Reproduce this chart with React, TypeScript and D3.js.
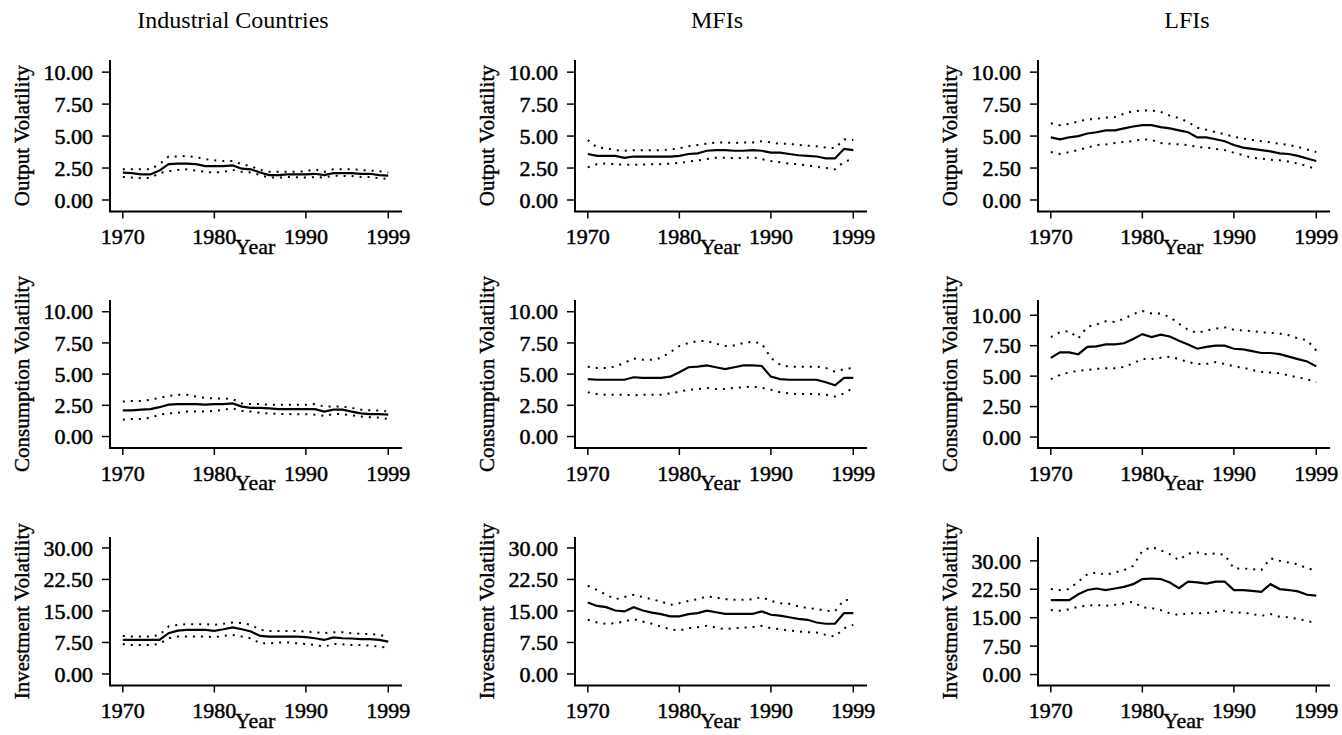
import * as d3 from 'd3';
import React from 'react';

// years on the x axis
const years = d3.range(1970, 2000);

// Industrial Countries
const icOutMid = [2.14, 2.1, 2.0, 2.0, 2.3, 2.8, 2.85, 2.85, 2.8, 2.65, 2.65, 2.65, 2.7, 2.45, 2.4, 2.15, 1.95, 1.95, 2.0, 2.0, 2.0, 2.05, 1.95, 2.1, 2.1, 2.1, 2.05, 2.05, 1.95, 1.9];
const icOutHi = [2.4, 2.4, 2.4, 2.4, 2.8, 3.4, 3.4, 3.45, 3.35, 3.2, 3.1, 3.05, 3.05, 2.8, 2.65, 2.35, 2.2, 2.2, 2.2, 2.2, 2.25, 2.4, 2.2, 2.4, 2.4, 2.4, 2.35, 2.3, 2.25, 2.15];
const icOutLo = [1.8, 1.75, 1.7, 1.72, 2.1, 2.25, 2.35, 2.4, 2.3, 2.2, 2.15, 2.2, 2.35, 2.2, 2.15, 1.95, 1.75, 1.75, 1.8, 1.78, 1.75, 1.8, 1.75, 1.9, 1.88, 1.88, 1.8, 1.8, 1.7, 1.65];
const icConMid = [2.1, 2.1, 2.15, 2.2, 2.35, 2.55, 2.6, 2.6, 2.6, 2.55, 2.6, 2.6, 2.65, 2.4, 2.3, 2.3, 2.25, 2.2, 2.2, 2.2, 2.2, 2.2, 2.0, 2.15, 2.15, 2.0, 1.85, 1.8, 1.8, 1.75];
const icConHi = [2.8, 2.85, 2.85, 2.95, 3.1, 3.25, 3.35, 3.35, 3.2, 3.1, 3.05, 3.05, 3.0, 2.65, 2.6, 2.6, 2.55, 2.55, 2.55, 2.55, 2.55, 2.6, 2.4, 2.4, 2.4, 2.3, 2.15, 2.1, 2.08, 2.0];
const icConLo = [1.35, 1.4, 1.4, 1.5, 1.75, 1.85, 1.9, 2.0, 2.0, 2.0, 2.05, 2.15, 2.25, 2.05, 2.0, 1.9, 1.85, 1.8, 1.8, 1.78, 1.78, 1.75, 1.65, 1.8, 1.8, 1.7, 1.6, 1.55, 1.52, 1.4];
const icInvMid = [8.1, 8.1, 8.1, 8.1, 8.1, 9.7, 10.3, 10.5, 10.5, 10.5, 10.25, 10.65, 11.1, 10.65, 10.1, 9.05, 8.9, 8.9, 8.9, 8.9, 8.75, 8.5, 8.1, 8.7, 8.5, 8.45, 8.3, 8.3, 8.1, 7.7];
const icInvHi = [9.05, 8.9, 8.9, 8.9, 9.3, 11.3, 11.7, 11.85, 11.85, 11.85, 11.7, 11.95, 12.25, 12.1, 11.7, 10.5, 10.25, 10.25, 10.25, 10.25, 10.1, 9.95, 9.7, 9.95, 9.95, 9.7, 9.55, 9.5, 9.3, 8.9];
const icInvLo = [7.15, 6.9, 6.9, 6.9, 7.15, 8.5, 8.9, 8.9, 8.9, 8.9, 8.75, 9.05, 9.3, 8.9, 8.5, 7.3, 7.3, 7.5, 7.5, 7.3, 7.15, 6.9, 6.5, 7.15, 7.05, 6.9, 6.9, 6.75, 6.5, 6.3];

// MFIs
const mfOutMid = [3.6, 3.45, 3.45, 3.45, 3.3, 3.4, 3.4, 3.4, 3.4, 3.4, 3.45, 3.6, 3.65, 3.85, 3.9, 3.9, 3.85, 3.85, 3.9, 3.85, 3.7, 3.7, 3.6, 3.5, 3.45, 3.4, 3.25, 3.25, 4.0, 3.9];
const mfOutHi = [4.7, 4.1, 4.05, 3.9, 3.85, 3.9, 3.9, 3.9, 3.9, 3.95, 4.05, 4.2, 4.3, 4.4, 4.5, 4.5, 4.45, 4.5, 4.5, 4.6, 4.5, 4.4, 4.4, 4.3, 4.25, 4.2, 4.1, 4.05, 4.75, 4.7];
const mfOutLo = [2.55, 2.8, 2.85, 2.8, 2.75, 2.75, 2.78, 2.8, 2.8, 2.85, 2.9, 3.0, 3.1, 3.2, 3.3, 3.3, 3.28, 3.28, 3.35, 3.2, 3.05, 2.95, 2.85, 2.8, 2.7, 2.6, 2.5, 2.4, 3.0, 3.2];
const mfConMid = [4.6, 4.55, 4.55, 4.55, 4.55, 4.75, 4.7, 4.7, 4.7, 4.8, 5.15, 5.55, 5.6, 5.7, 5.55, 5.4, 5.55, 5.7, 5.7, 5.65, 4.8, 4.6, 4.55, 4.55, 4.55, 4.55, 4.35, 4.1, 4.7, 4.7];
const mfConHi = [5.6, 5.5, 5.5, 5.6, 5.9, 6.25, 6.15, 6.15, 6.3, 6.75, 7.25, 7.5, 7.65, 7.65, 7.45, 7.25, 7.3, 7.5, 7.6, 7.45, 6.3, 5.75, 5.6, 5.6, 5.6, 5.6, 5.5, 5.2, 5.4, 5.5];
const mfConLo = [3.55, 3.4, 3.35, 3.35, 3.35, 3.3, 3.35, 3.35, 3.35, 3.45, 3.6, 3.75, 3.8, 3.9, 3.8, 3.8, 3.9, 3.95, 4.0, 3.9, 3.75, 3.55, 3.45, 3.4, 3.4, 3.4, 3.35, 3.2, 3.45, 3.9];
const mfInvMid = [17.0, 16.2, 15.9, 15.1, 14.9, 15.9, 15.1, 14.6, 14.25, 13.7, 13.7, 14.25, 14.5, 15.05, 14.7, 14.3, 14.3, 14.3, 14.3, 14.9, 14.1, 13.9, 13.5, 13.1, 12.9, 12.25, 11.95, 11.95, 14.5, 14.5];
const mfInvHi = [21.0, 20.0, 18.85, 17.8, 18.3, 18.85, 18.3, 17.8, 17.25, 16.45, 16.85, 17.4, 17.8, 18.45, 18.2, 17.8, 17.65, 17.65, 17.8, 18.3, 17.4, 16.85, 16.7, 16.1, 15.7, 15.45, 15.05, 14.9, 17.65, 17.5];
const mfInvLo = [12.9, 12.25, 11.95, 12.1, 12.5, 13.05, 12.5, 11.95, 11.3, 10.65, 10.35, 10.9, 11.15, 11.45, 11.05, 10.65, 10.9, 11.05, 11.15, 11.45, 10.9, 10.65, 10.35, 10.1, 9.95, 9.85, 9.3, 8.9, 10.9, 11.7];

// LFIs
const lfOutMid = [4.9, 4.75, 4.9, 5.0, 5.2, 5.3, 5.45, 5.45, 5.6, 5.75, 5.85, 5.85, 5.7, 5.6, 5.45, 5.3, 4.9, 4.9, 4.75, 4.6, 4.3, 4.1, 4.0, 3.9, 3.8, 3.65, 3.6, 3.45, 3.25, 3.05];
const lfOutHi = [6.0, 5.85, 5.95, 6.15, 6.3, 6.35, 6.45, 6.5, 6.75, 6.95, 7.0, 7.0, 6.9, 6.6, 6.4, 6.1, 5.65, 5.5, 5.3, 5.15, 4.95, 4.8, 4.7, 4.6, 4.5, 4.4, 4.3, 4.15, 3.95, 3.75];
const lfOutLo = [3.75, 3.6, 3.75, 3.9, 4.1, 4.3, 4.35, 4.45, 4.55, 4.6, 4.75, 4.7, 4.45, 4.4, 4.35, 4.3, 4.15, 4.1, 4.0, 3.9, 3.7, 3.5, 3.3, 3.25, 3.15, 3.1, 3.0, 2.85, 2.65, 2.4];
const lfConMid = [6.5, 6.95, 6.95, 6.8, 7.4, 7.45, 7.6, 7.6, 7.7, 8.05, 8.45, 8.2, 8.4, 8.25, 7.9, 7.6, 7.25, 7.4, 7.5, 7.5, 7.25, 7.2, 7.05, 6.9, 6.9, 6.8, 6.6, 6.4, 6.2, 5.8];
const lfConHi = [8.2, 8.6, 8.7, 8.1, 9.05, 9.25, 9.5, 9.45, 9.7, 10.1, 10.35, 10.15, 10.15, 9.85, 9.3, 8.8, 8.55, 8.75, 8.9, 9.0, 8.8, 8.75, 8.7, 8.6, 8.55, 8.5, 8.35, 8.1, 7.95, 7.1];
const lfConLo = [4.75, 5.1, 5.3, 5.45, 5.5, 5.6, 5.65, 5.65, 5.75, 6.05, 6.4, 6.4, 6.5, 6.6, 6.4, 6.15, 6.0, 6.0, 6.15, 6.0, 5.8, 5.7, 5.5, 5.35, 5.3, 5.25, 5.05, 4.9, 4.75, 4.5];
const lfInvMid = [19.65, 19.65, 19.65, 21.2, 22.3, 22.7, 22.3, 22.7, 23.15, 23.85, 25.2, 25.35, 25.2, 24.3, 22.8, 24.5, 24.3, 24.0, 24.5, 24.5, 22.3, 22.3, 22.1, 21.85, 23.85, 22.55, 22.3, 21.95, 21.05, 20.8];
const lfInvHi = [22.55, 22.3, 22.55, 24.5, 26.5, 26.95, 26.3, 26.95, 27.55, 28.7, 32.6, 33.7, 32.8, 31.75, 30.2, 31.95, 32.2, 31.75, 31.95, 31.6, 28.0, 28.0, 27.8, 27.55, 30.7, 30.0, 29.55, 29.1, 28.0, 27.55];
const lfInvLo = [17.0, 16.85, 17.2, 17.9, 18.15, 18.35, 18.15, 18.4, 18.75, 19.2, 17.7, 17.55, 17.0, 16.15, 15.7, 16.15, 16.2, 16.2, 16.6, 16.85, 16.2, 16.4, 15.95, 15.5, 15.95, 15.25, 15.1, 14.65, 14.2, 13.5];

const columnTitles = ['Industrial Countries', 'MFIs', 'LFIs'];
const rowLabels = ['Output Volatility', 'Consumption Volatility', 'Investment Volatility'];
const xTicks = [1970, 1980, 1990, 1999];
const yTicksSmall = [0, 2.5, 5, 7.5, 10];
const yTicksLarge = [0, 7.5, 15, 22.5, 30];

// [mid, hi, lo] per panel, row by row
const panelSeries = [
  [[icOutMid, icOutHi, icOutLo], [mfOutMid, mfOutHi, mfOutLo], [lfOutMid, lfOutHi, lfOutLo]],
  [[icConMid, icConHi, icConLo], [mfConMid, mfConHi, mfConLo], [lfConMid, lfConHi, lfConLo]],
  [[icInvMid, icInvHi, icInvLo], [mfInvMid, mfInvHi, mfInvLo], [lfInvMid, lfInvHi, lfInvLo]],
];
const yDomains = [
  [[-0.9, 10.95], [-0.9, 10.95], [-0.9, 10.95]],
  [[-0.92, 10.94], [-0.92, 10.94], [-0.9, 11.25]],
  [[-2.74, 32.6], [-2.74, 32.6], [-2.9, 36.3]],
];
const rowTicks = [yTicksSmall, yTicksSmall, yTicksLarge];

// layout
const axisX = [110, 575, 1038];
const titleX = [233, 717, 1187];
const rowBox = [[60, 211.5], [300, 448], [537, 685.5]];
const plotW = 292;
const font = '"Liberation Serif", "Times New Roman", serif';

function Panel({ row, col }: { row: number; col: number }) {
  const x0 = axisX[col];
  const [top, bottom] = rowBox[row];
  const x = d3.scaleLinear().domain([1968.6, 2000.5]).range([x0, x0 + plotW]);
  const y = d3.scaleLinear().domain(yDomains[row][col]).range([bottom, top]);
  const line = d3
    .line<number>()
    .x((_, i) => x(years[i]))
    .y((d) => y(d));
  const [mid, hi, lo] = panelSeries[row][col];
  const fmt = d3.format('.2f');

  return (
    <g>
      {/* axes */}
      <line x1={x0} x2={x0} y1={top} y2={bottom} stroke="#000" strokeWidth={2} />
      <line x1={x0 - 1} x2={x0 + plotW} y1={bottom} y2={bottom} stroke="#000" strokeWidth={2} />
      {rowTicks[row].map((t) => (
        <g key={t}>
          <line x1={x0 - 8} x2={x0} y1={y(t)} y2={y(t)} stroke="#000" strokeWidth={1.5} />
          <text x={x0 - 17} y={y(t)} dy="0.35em" textAnchor="end" fontSize={22} stroke="#000" strokeWidth={0.55}>
            {fmt(t)}
          </text>
        </g>
      ))}
      {xTicks.map((t) => (
        <g key={t}>
          <line x1={x(t)} x2={x(t)} y1={bottom} y2={bottom + 7} stroke="#000" strokeWidth={1.5} />
          <text x={x(t)} y={bottom + 32.5} textAnchor="middle" fontSize={22} stroke="#000" strokeWidth={0.5}>
            {t}
          </text>
        </g>
      ))}
      <text x={x0 + 145} y={bottom + 42} textAnchor="middle" fontSize={22} stroke="#000" strokeWidth={0.4}>
        Year
      </text>
      <text
        transform={`translate(${x0 - 81},${(top + bottom) / 2}) rotate(-90)`}
        textAnchor="middle"
        fontSize={21}
        stroke="#000"
        strokeWidth={0.4}
      >
        {rowLabels[row]}
      </text>

      {/* series */}
      <path d={line(hi) ?? ''} fill="none" stroke="#000" strokeWidth={2} strokeDasharray="2 6" />
      <path d={line(lo) ?? ''} fill="none" stroke="#000" strokeWidth={2} strokeDasharray="2 6" />
      <path d={line(mid) ?? ''} fill="none" stroke="#000" strokeWidth={2.2} />
    </g>
  );
}

export default function App() {
  return (
    <svg
      width={1342}
      height={735}
      style={{ position: 'absolute', left: 0, top: 0, background: '#fff' }}
      fontFamily={font}
    >
      {columnTitles.map((t, i) => (
        <text key={t} x={titleX[i]} y={28} textAnchor="middle" fontSize={24}>
          {t}
        </text>
      ))}
      {[0, 1, 2].map((r) => [0, 1, 2].map((c) => <Panel key={`${r}-${c}`} row={r} col={c} />))}
    </svg>
  );
}
